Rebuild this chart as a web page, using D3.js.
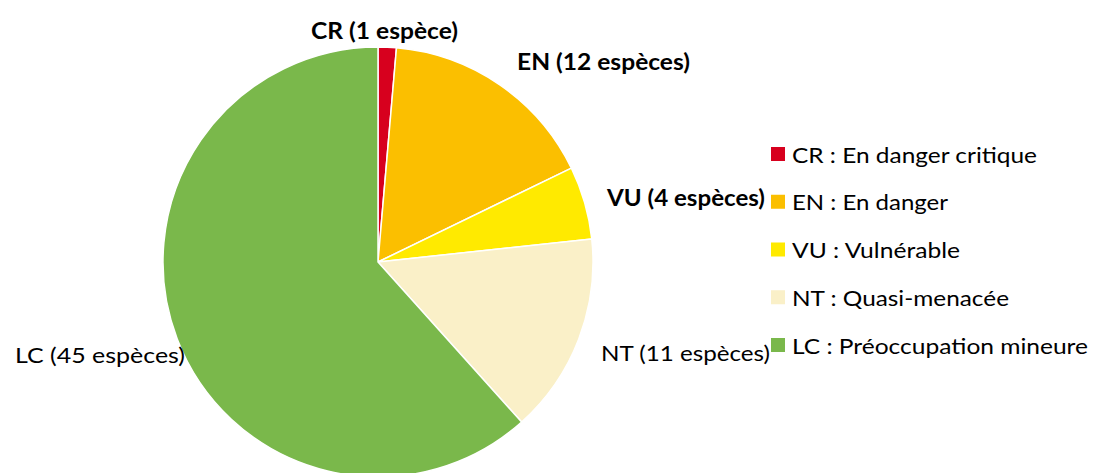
<!DOCTYPE html>
<html><head><meta charset="utf-8">
<script src="https://cdn.jsdelivr.net/npm/d3@7"></script>
<style>body{margin:0;background:#fff}svg{display:block}text{font-family:Lato,"Open Sans",sans-serif;fill:#000}</style>
</head><body>
<svg id="c" width="1097" height="473"></svg>
<script>
const codes = ["CR","EN","VU","NT","LC"];
const counts = [1,12,4,11,45];
const sliceLabels = ["CR (1 espèce)","EN (12 espèces)","VU (4 espèces)","NT (11 espèces)","LC  (45 espèces)"];
const legendLabels = ["CR : En danger critique","EN : En danger","VU : Vulnérable","NT : Quasi-menacée","LC : Préoccupation mineure"];
const colors = ["#d7001e","#fbbf00","#ffea00","#faf0c8","#7ab84b"];
const boldLabel = [true,true,true,false,false];

const svg = d3.select("#c");
const cx = 378, cy = 262, R = 215;
const data = codes.map((c,i)=>({code:c,value:counts[i],i}));
const pie = d3.pie().value(d=>d.value).sort(null);
const arc = d3.arc().innerRadius(0).outerRadius(R);
const g = svg.append("g").attr("transform",`translate(${cx},${cy})`);
g.selectAll("path").data(pie(data)).join("path")
  .attr("d",arc).attr("fill",d=>colors[d.data.i])
  .attr("stroke","#fff").attr("stroke-width",1.5).attr("stroke-linejoin","round");

// slice label layout: left x, centre y, width
const labelPos = [[311,30,147],[517,61,173],[607,197,158],[601,352,169],[15,354,170]];
svg.selectAll("text.sl").data(sliceLabels).join("text").attr("class","sl")
  .attr("x",(d,i)=>labelPos[i][0]).attr("y",(d,i)=>labelPos[i][1])
  .attr("dominant-baseline","central")
  .attr("textLength",(d,i)=>labelPos[i][2]).attr("lengthAdjust","spacingAndGlyphs")
  .attr("font-size",22).attr("font-weight",(d,i)=>boldLabel[i]?"bold":"normal")
  .text(d=>d);

// legend
const legendW = [245,156,168,217,296];
const ly = d3.scalePoint().domain(codes).range([154,345]);
const lg = svg.append("g");
codes.forEach((c,i)=>{
  lg.append("rect").attr("x",771).attr("y",ly(c)-7).attr("width",14).attr("height",14).attr("fill",colors[i]);
  lg.append("text").attr("x",792).attr("y",ly(c)).attr("dominant-baseline","central")
    .attr("textLength",legendW[i]).attr("lengthAdjust","spacingAndGlyphs")
    .attr("font-size",22).text(legendLabels[i]);
});
</script>
</body></html>
